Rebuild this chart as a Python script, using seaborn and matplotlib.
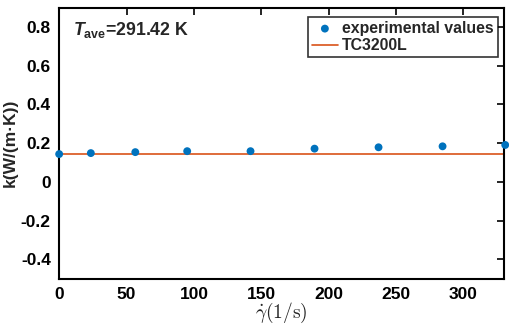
import matplotlib
matplotlib.use("Agg")
import matplotlib.pyplot as plt
import seaborn as sns
import pandas as pd

# data
shear_rate = [0, 23.5, 56.5, 95, 142, 189.5, 237, 284.5, 331]
k_exp = [0.144, 0.149, 0.154, 0.159, 0.159, 0.172, 0.179, 0.184, 0.191]
tc_x = [0, 330]
tc_k = [0.142, 0.142]

sns.set_theme(style="white")
plt.rcParams['font.family'] = ['Liberation Sans', 'DejaVu Sans']
plt.rcParams['font.weight'] = 'bold'
plt.rcParams['mathtext.fontset'] = 'custom'
plt.rcParams['mathtext.rm'] = 'Liberation Sans:bold'
plt.rcParams['mathtext.bf'] = 'Liberation Sans:bold'
plt.rcParams['mathtext.it'] = 'Liberation Sans:bold:italic'
plt.rcParams['mathtext.bfit'] = 'Liberation Sans:bold:italic'

fig = plt.figure(figsize=(5.1, 3.3), dpi=100)
ax = fig.add_axes([0.116, 0.155, 0.872, 0.822])

df = pd.DataFrame({"x": shear_rate, "k": k_exp})
sns.scatterplot(data=df, x="x", y="k", ax=ax, color="#0072BD", s=32,
                edgecolor="none", label="experimental values", zorder=3,
                clip_on=False)
sns.lineplot(x=tc_x, y=tc_k, ax=ax, color="#D95319", lw=1.2, label="TC3200L")

ax.set_xlim(0, 330)
ax.set_ylim(-0.5, 0.9)
ax.set_xticks([0, 50, 100, 150, 200, 250, 300])
ax.set_yticks([-0.4, -0.2, 0, 0.2, 0.4, 0.6, 0.8])
ax.set_yticklabels(["-0.4", "-0.2", "0", "0.2", "0.4", "0.6", "0.8"])
ax.tick_params(direction="in", length=5, width=1.2, top=True, right=True,
               labelsize=12.5, colors="black", pad=6)
for lab in ax.get_xticklabels() + ax.get_yticklabels():
    lab.set_fontweight("bold")
for sp in ax.spines.values():
    sp.set_color("black")
    sp.set_linewidth(1.5)

ax.set_xlabel(r"$\dot{\gamma}(1/\mathrm{s})$", fontsize=14, math_fontfamily="cm",
              labelpad=-1)
ax.set_ylabel("k(W/(m·K))", fontsize=12.5, fontweight="bold", labelpad=2)

ax.text(0.03, 0.917, r"$\mathit{T}_{\mathrm{ave}}$=291.42 K", transform=ax.transAxes,
        fontsize=12.8, fontweight="bold", va="center")

leg = ax.legend(loc="upper right", bbox_to_anchor=(0.9865, 0.966),
                fontsize=11.4, frameon=True, fancybox=False,
                borderpad=0.25, labelspacing=0.15, handlelength=1.6,
                handletextpad=0.3, borderaxespad=0)
leg.get_frame().set_edgecolor("black")
leg.get_frame().set_linewidth(1.2)
for t in leg.get_texts():
    t.set_fontweight("bold")

fig.savefig("out.png", dpi=100)
